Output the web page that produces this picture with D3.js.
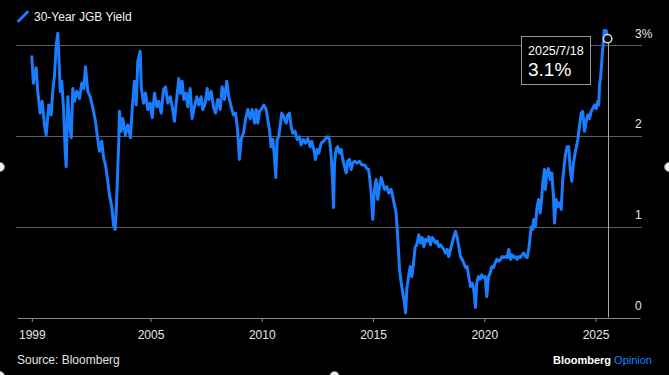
<!DOCTYPE html>
<html><head><meta charset="utf-8">
<script src="https://cdn.jsdelivr.net/npm/d3@7"></script>
<style>
html,body{margin:0;padding:0;background:#000;}
svg{display:block;}
text{font-family:"Liberation Sans",Arial,sans-serif;}
</style></head><body>
<svg id="c" width="669" height="375"></svg>
<script>
const seriesName = "30-Year JGB Yield";
const dates = [
"1999-09-01","1999-09-27","1999-11-11","1999-12-08",
"2000-01-16","2000-02-18","2000-03-27","2000-04-24","2000-06-06","2000-07-15","2000-08-11","2000-09-08","2000-10-06","2000-11-01","2000-11-17","2000-12-10",
"2001-01-05","2001-02-02","2001-03-02","2001-03-18","2001-04-14","2001-05-12","2001-06-09","2001-07-05","2001-08-02","2001-09-09","2001-10-23","2001-11-30",
"2002-01-01","2002-01-29","2002-03-08","2002-04-16","2002-05-29","2002-07-12","2002-08-09","2002-09-16","2002-10-24","2002-11-21","2002-12-24",
"2003-01-30","2003-02-27","2003-04-06","2003-05-04","2003-06-01","2003-06-22","2003-07-13","2003-07-30","2003-08-10","2003-09-07","2003-10-03","2003-11-16","2003-12-24",
"2004-02-06","2004-03-05","2004-04-12","2004-05-10","2004-06-06","2004-07-15","2004-08-01","2004-09-08","2004-10-11","2004-11-17","2004-12-27",
"2005-01-28","2005-03-07","2005-04-14","2005-05-17","2005-06-25","2005-08-02","2005-09-04","2005-10-12","2005-11-20","2005-12-23",
"2006-01-29","2006-02-26","2006-04-10","2006-05-07","2006-06-04","2006-07-01","2006-08-09","2006-09-04","2006-10-14","2006-11-15","2006-12-23",
"2007-01-30","2007-03-04","2007-04-12","2007-05-09","2007-06-17","2007-07-19","2007-08-15","2007-09-23","2007-10-31","2007-12-03",
"2008-01-10","2008-02-18","2008-03-22","2008-04-29","2008-06-06","2008-07-09","2008-08-17","2008-09-24","2008-10-27","2008-11-24","2008-12-15","2008-12-30",
"2009-01-28","2009-03-07","2009-04-09","2009-05-17","2009-06-25","2009-07-28","2009-09-04","2009-10-02","2009-10-28","2009-11-25",
"2010-01-01","2010-02-03","2010-03-14","2010-04-10","2010-05-07","2010-06-04","2010-07-01","2010-07-28","2010-08-19","2010-09-11","2010-10-07","2010-11-04","2010-11-25","2010-12-28",
"2011-02-06","2011-03-04","2011-04-01","2011-04-29","2011-05-25","2011-07-03","2011-08-05","2011-09-12","2011-10-09","2011-11-16","2011-12-19",
"2012-01-26","2012-03-06","2012-04-01","2012-05-04","2012-06-01","2012-06-29","2012-07-25","2012-09-03","2012-10-11","2012-11-13","2012-12-20",
"2013-01-17","2013-02-14","2013-03-07","2013-03-24","2013-04-09","2013-05-07","2013-06-02","2013-06-30","2013-07-28","2013-08-23","2013-09-20","2013-10-18","2013-11-13","2013-12-11",
"2014-01-08","2014-02-03","2014-03-03","2014-04-16","2014-05-24","2014-07-01","2014-08-14","2014-09-21","2014-10-20","2014-11-10","2014-12-02","2014-12-28",
"2015-01-25","2015-02-22","2015-03-20","2015-04-17","2015-05-15","2015-06-10","2015-07-08","2015-08-15","2015-09-17","2015-10-26","2015-11-22","2015-12-19",
"2016-01-16","2016-02-02","2016-02-23","2016-03-11","2016-04-08","2016-05-04","2016-06-01","2016-06-18","2016-07-09","2016-08-06","2016-09-03","2016-09-29","2016-10-27","2016-11-24","2016-12-20",
"2017-01-22","2017-02-19","2017-03-18","2017-04-14","2017-05-12","2017-06-09","2017-07-05","2017-08-02","2017-08-30","2017-09-25","2017-10-23","2017-11-20","2017-12-16",
"2018-01-13","2018-02-10","2018-03-08","2018-04-05","2018-05-03","2018-05-29","2018-06-26","2018-07-24","2018-08-19","2018-09-16","2018-10-14","2018-11-09","2018-12-07",
"2019-01-04","2019-01-30","2019-02-27","2019-03-27","2019-04-22","2019-05-20","2019-06-17","2019-07-13","2019-08-10","2019-08-31","2019-09-28","2019-10-26","2019-11-21","2019-12-18",
"2020-01-16","2020-02-12","2020-03-11","2020-04-08","2020-05-04","2020-06-01","2020-06-29","2020-07-25","2020-08-27","2020-09-24","2020-10-22","2020-11-17","2020-12-15",
"2021-01-12","2021-02-07","2021-03-07","2021-04-04","2021-04-30","2021-05-28","2021-06-25","2021-07-21","2021-08-18","2021-09-15","2021-10-11","2021-11-08","2021-12-06",
"2022-01-01","2022-01-24","2022-02-10","2022-03-08","2022-03-24","2022-04-21","2022-05-13","2022-06-10","2022-07-07","2022-07-28","2022-08-19","2022-09-16","2022-10-02","2022-10-23","2022-11-20","2022-12-18",
"2023-01-14","2023-02-11","2023-02-27","2023-03-27","2023-04-22","2023-05-20","2023-06-17","2023-07-13","2023-07-30","2023-08-27","2023-09-23","2023-10-20","2023-11-12","2023-12-08",
"2024-01-05","2024-02-06","2024-03-15","2024-04-12","2024-05-10","2024-06-05","2024-07-04","2024-08-01","2024-08-27","2024-09-24","2024-10-22","2024-11-17","2024-12-15",
"2025-01-12","2025-02-07","2025-02-23","2025-03-07","2025-03-24","2025-04-09","2025-04-25","2025-05-12","2025-05-23","2025-06-09","2025-06-25","2025-07-18"
];
const values = [
2.87,2.58,2.75,2.49,
2.25,2.38,2.12,2.01,2.34,2.23,2.49,2.67,3.00,3.13,2.89,2.49,
2.60,2.31,1.83,1.66,2.43,2.12,1.98,2.52,2.38,2.49,2.41,2.58,
2.52,2.76,2.49,2.43,2.31,2.16,2.01,1.83,1.94,1.76,1.68,
1.50,1.35,1.22,1.02,0.97,1.24,1.64,1.94,2.27,2.05,2.19,2.01,2.12,
1.98,2.29,2.60,2.34,2.82,2.93,2.54,2.36,2.47,2.29,2.36,
2.20,2.47,2.32,2.38,2.25,2.51,2.54,2.36,2.43,2.32,
2.16,2.36,2.63,2.47,2.60,2.40,2.47,2.32,2.52,2.19,2.32,
2.43,2.34,2.43,2.29,2.36,2.52,2.40,2.49,2.32,2.25,
2.40,2.29,2.54,2.40,2.60,2.43,2.32,2.23,2.25,2.10,1.92,1.74,
1.96,2.03,2.18,2.29,2.19,2.29,2.14,2.29,2.14,2.27,
2.30,2.34,2.29,2.18,2.07,1.88,1.96,1.77,1.54,1.96,1.99,2.14,2.25,2.21,
2.14,2.23,2.25,2.10,2.03,2.05,1.96,1.99,1.90,1.96,1.92,
1.97,1.88,1.94,1.85,1.74,1.85,1.81,1.92,1.94,1.97,1.99,
1.96,1.77,1.52,1.21,1.70,1.86,1.88,1.81,1.85,1.74,1.66,1.59,1.72,1.74,
1.63,1.70,1.72,1.70,1.72,1.68,1.68,1.64,1.63,1.52,1.36,1.08,
1.41,1.52,1.30,1.44,1.54,1.48,1.41,1.44,1.37,1.41,1.33,1.24,
1.15,0.97,0.75,0.53,0.38,0.27,0.16,0.05,0.31,0.45,0.56,0.45,0.60,0.78,0.80,
0.91,0.82,0.88,0.78,0.86,0.84,0.89,0.80,0.88,0.86,0.82,0.84,0.78,
0.80,0.77,0.75,0.71,0.75,0.67,0.75,0.82,0.89,0.95,0.88,0.78,0.67,
0.64,0.60,0.55,0.56,0.45,0.34,0.38,0.31,0.11,0.38,0.45,0.42,0.47,0.44,
0.45,0.23,0.45,0.49,0.56,0.55,0.60,0.64,0.62,0.64,0.67,0.66,0.67,
0.66,0.75,0.64,0.69,0.66,0.67,0.64,0.67,0.66,0.69,0.71,0.67,0.66,
0.75,0.89,1.00,0.97,1.08,1.00,1.19,1.30,1.15,1.28,1.48,1.63,1.41,1.59,1.64,1.52,
1.59,1.33,1.04,1.30,1.22,1.26,1.19,1.52,1.63,1.80,1.88,1.88,1.63,1.50,
1.70,1.83,1.95,2.10,2.25,2.27,2.05,2.16,2.23,2.19,2.27,2.30,2.34,
2.30,2.38,2.34,2.56,2.63,2.78,2.93,3.04,3.16,3.11,3.16,3.07
];
const xTickDates = ["1999-09-01","2005-01-01","2010-01-01","2015-01-01","2020-01-01","2025-01-01"];
const xTickLabels = ["1999","2005","2010","2015","2020","2025"];
const yTicks = [0,1,2,3];
const annotationDate = "2025/7/18";
const sourceText = "Source: Bloomberg";

const parse = d3.timeParse("%Y-%m-%d");
const data = dates.map((d,i)=>({date:parse(d), value:values[i]}));
const svg = d3.select("#c");
const W = 669, H = 375;
svg.append("rect").attr("width",W).attr("height",H).attr("fill","#000");

const x = d3.scaleTime().domain([parse("1999-01-01"), parse("2027-01-01")]).range([17,640]);
const y = d3.scaleLinear().domain([0,3]).range([317.5,45]);
const crisp = v => Math.round(v) + 0.5;

// gridlines
svg.append("g").selectAll("line").data(yTicks.filter(v=>v>0)).join("line")
  .attr("x1",16).attr("x2",642)
  .attr("y1",d=>crisp(y(d))).attr("y2",d=>crisp(y(d)))
  .attr("stroke","#5e5e5e").attr("stroke-width",1);

// y labels
svg.append("g").selectAll("text").data(yTicks).join("text")
  .attr("x",635).attr("y",d=>y(d)-7.5)
  .attr("fill","#e6e6e6").attr("font-size",12)
  .text(d=> d===3 ? d+"%" : d);

// x axis
const xAxis = d3.axisBottom(x)
  .tickValues(xTickDates.map(parse))
  .tickFormat((d,i)=>xTickLabels[i])
  .tickSize(4).tickSizeOuter(0).tickPadding(8);
const gx = svg.append("g").attr("transform",`translate(0,${crisp(y(0))-0.5})`).call(xAxis);
gx.select(".domain").attr("stroke","#8a8a8a");
gx.selectAll(".tick line").attr("stroke","#8a8a8a");
gx.selectAll(".tick text").attr("fill","#e6e6e6").attr("font-size",12)
  .attr("font-family","'Liberation Sans',Arial,sans-serif");

// series line
const line = d3.line().x(d=>x(d.date)).y(d=>y(d.value)).curve(d3.curveLinear);
svg.append("path").datum(data)
  .attr("d",line).attr("fill","none")
  .attr("stroke","#1a7dff").attr("stroke-width",3)
  .attr("stroke-linejoin","round").attr("stroke-linecap","round");

// end marker & annotation
const last = data[data.length-1];
const xe = x(last.date), ye = y(last.value);
svg.append("line")
  .attr("x1",crisp(xe)).attr("x2",crisp(xe))
  .attr("y1",ye+4.5).attr("y2",y(0))
  .attr("stroke","#a8a8a8").attr("stroke-width",1);
svg.append("circle").attr("cx",xe).attr("cy",ye).attr("r",4.2)
  .attr("fill","#000").attr("stroke","#d8d8d8").attr("stroke-width",1.5);

const bx = Math.round(xe) - 87 + 0.5, by = 36.5;
svg.append("rect").attr("x",bx).attr("y",by).attr("width",69).attr("height",48)
  .attr("fill","#000").attr("stroke","#9a9a9a").attr("stroke-width",1);
svg.append("text").attr("x",bx+6.5).attr("y",54.5)
  .attr("fill","#fff").attr("font-size",12.5).text(annotationDate);
svg.append("text").attr("x",bx+6.5).attr("y",75.5)
  .attr("fill","#fff").attr("font-size",19).text(d3.format(".1f")(last.value)+"%");

// legend
svg.append("line").attr("x1",18.5).attr("y1",21).attr("x2",27.5).attr("y2",12)
  .attr("stroke","#1a7dff").attr("stroke-width",3).attr("stroke-linecap","round");
svg.append("text").attr("x",34).attr("y",21).attr("fill","#f2f2f2")
  .attr("font-size",12).text(seriesName);

// footer
svg.append("text").attr("x",17).attr("y",364).attr("fill","#e0e0e0")
  .attr("font-size",12).text(sourceText);
const brand = svg.append("text").attr("x",652).attr("y",364)
  .attr("text-anchor","end").attr("font-size",11);
brand.append("tspan").attr("fill","#fff").attr("font-weight","bold").text("Bloomberg");
brand.append("tspan").attr("fill","#1a82ff").text(" Opinion");

// frame handles (from the screenshot)
const handles = [[0,167],[669,167],[0,376],[334.5,376]];
svg.append("g").selectAll("circle").data(handles).join("circle")
  .attr("cx",d=>d[0]).attr("cy",d=>d[1]).attr("r",4.5)
  .attr("fill","#f2f2f2").attr("stroke","#888").attr("stroke-width",1);
</script>
</body></html>
